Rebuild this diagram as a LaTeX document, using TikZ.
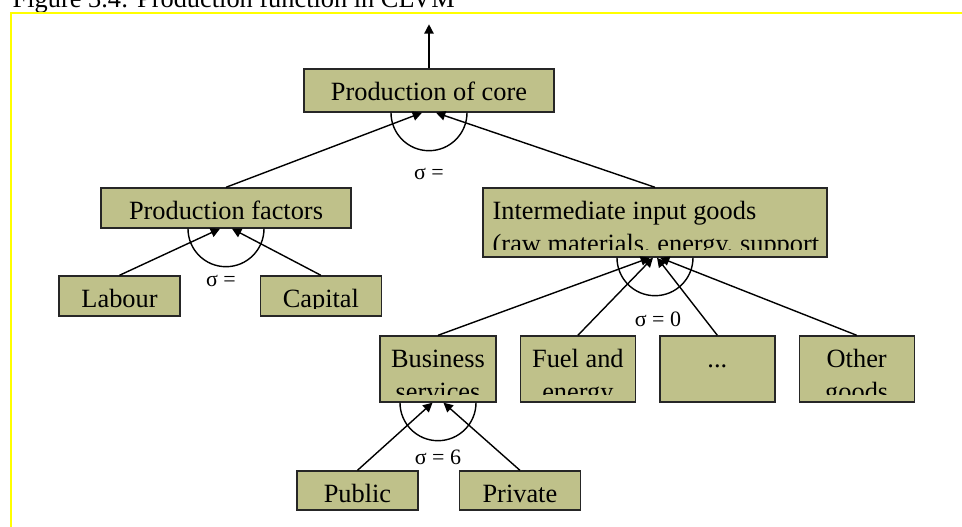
\documentclass[tikz,border=0pt]{standalone}
\usepackage{fontspec}
\setmainfont{Liberation Serif}
\usetikzlibrary{positioning,arrows.meta}

\definecolor{olivebox}{RGB}{191,193,138}
\definecolor{figframe}{RGB}{255,255,0}

\tikzset{
  plain text/.style={draw=none, fill=none, inner sep=0pt, minimum width=0pt, minimum height=0pt,
    font=\fontsize{15}{18.8}\selectfont},
  good/.style={draw=black!85, fill=olivebox, inner sep=0pt, minimum width=2.32cm, minimum height=0.8cm,
    path picture={
      \clip ([yshift=0.15cm]path picture bounding box.south west) rectangle (path picture bounding box.north east);
      \node[plain text, anchor=base] at ([yshift=-0.63cm]path picture bounding box.north)
        {\begin{tabular}[t]{@{}c@{}}#1\end{tabular}};}},
  good left/.style={draw=black!85, fill=olivebox, inner sep=0pt,
    path picture={
      \clip ([yshift=0.15cm]path picture bounding box.south west) rectangle (path picture bounding box.north east);
      \node[plain text, anchor=base west] at ([xshift=0.18cm,yshift=-0.63cm]path picture bounding box.north west)
        {\begin{tabular}[t]{@{}l@{}}#1\end{tabular}};}},
  sigma/.style={font=\fontsize{12.5}{15}\selectfont, inner sep=1pt},
}

\begin{document}
\begin{tikzpicture}[node distance = 0.46cm, line width=0.8pt, >={Triangle[length=5.3pt,width=5.3pt]}]
        \useasboundingbox (0,0) rectangle (19.24,-10.54);

        % Caption and frame
        \node[plain text, anchor=base west] (caption) at (0.24,-0.16) {Figure 3.4: Production function in CLVM};
        \draw[figframe, line width=0.05cm] (0.216,-11) -- (0.216,-0.256) -- (20,-0.256);

        % Place nodes
        \node[good={Production of core}, minimum width=5cm, minimum height=0.86cm] (core) at (8.58,-1.81) {};
        \node[good={Production factors}, minimum width=5cm] (factors) at (4.52,-4.16) {};
        \node[good left={Intermediate input goods\\(raw materials, energy, support}, minimum width=6.88cm, minimum height=1.38cm] (inter) at (13.1,-4.45) {};
        \node[good={Labour}, minimum width=2.42cm] (labour) at (2.39,-5.92) {};
        \node[good={Capital}, minimum width=2.42cm, right=1.58cm of labour] (capital) {};
        \node[good={Business\\services}, minimum height=1.32cm] (busi) at (8.76,-7.38) {};
        \node[good={Fuel and\\energy}, minimum width=2.3cm, minimum height=1.32cm, right=of busi] (fuel) {};
        \node[good={...}, minimum width=2.3cm, minimum height=1.32cm, right=of fuel] (dots) {};
        \node[good={Other\\goods}, minimum width=2.3cm, minimum height=1.32cm, right=of dots] (other) {};
        \node[good={Public}, minimum width=2.42cm, minimum height=0.78cm] (public) at (7.15,-9.81) {};
        \node[good={Private}, minimum width=2.42cm, minimum height=0.78cm, right=0.8cm of public] (private) {};
        \coordinate (top) at ([yshift=0.88cm]core.north);

        % Draw nests
        \draw (core.south) ++(-0.76,0) arc[start angle=180, end angle=360, radius=0.76];
        \draw (factors.south) ++(-0.76,0) arc[start angle=180, end angle=360, radius=0.76];
        \draw (inter.south) ++(-0.76,0) arc[start angle=180, end angle=360, radius=0.76];
        \draw (busi.south) ++(-0.76,0) arc[start angle=180, end angle=360, radius=0.76];

        \node[sigma] (s_core)    at ([yshift=-1.22cm]core.south)               {σ =};
        \node[sigma] (s_factors) at ([xshift=-0.1cm,yshift=-1.04cm]factors.south) {σ =};
        \node[sigma] (s_inter)   at ([xshift=0.06cm,yshift=-1.24cm]inter.south)  {σ = 0};
        \node[sigma] (s_busi)    at ([yshift=-1.1cm]busi.south)                {σ = 6};

        % Draw edges
        \draw [->] (core.north) -- (top);
        \draw [->] (factors.north) -- ([xshift=-0.14cm]core.south);
        \draw [->] (inter.north)   -- ([xshift=0.14cm]core.south);
        \draw [->] (labour.north)  -- ([xshift=-0.12cm]factors.south);
        \draw [->] (capital.north) -- ([xshift=0.12cm]factors.south);
        \draw [->] (busi.north)    -- ([xshift=-0.1cm]inter.south);
        \draw [->] (fuel.north)    -- ([xshift=-0.04cm]inter.south);
        \draw [->] (dots.north)    -- ([xshift=0.04cm]inter.south);
        \draw [->] (other.north)   -- ([xshift=0.1cm]inter.south);
        \draw [->] (public.north)  -- ([xshift=-0.11cm]busi.south);
        \draw [->] (private.north) -- ([xshift=0.11cm]busi.south);
    \end{tikzpicture}
\end{document}
